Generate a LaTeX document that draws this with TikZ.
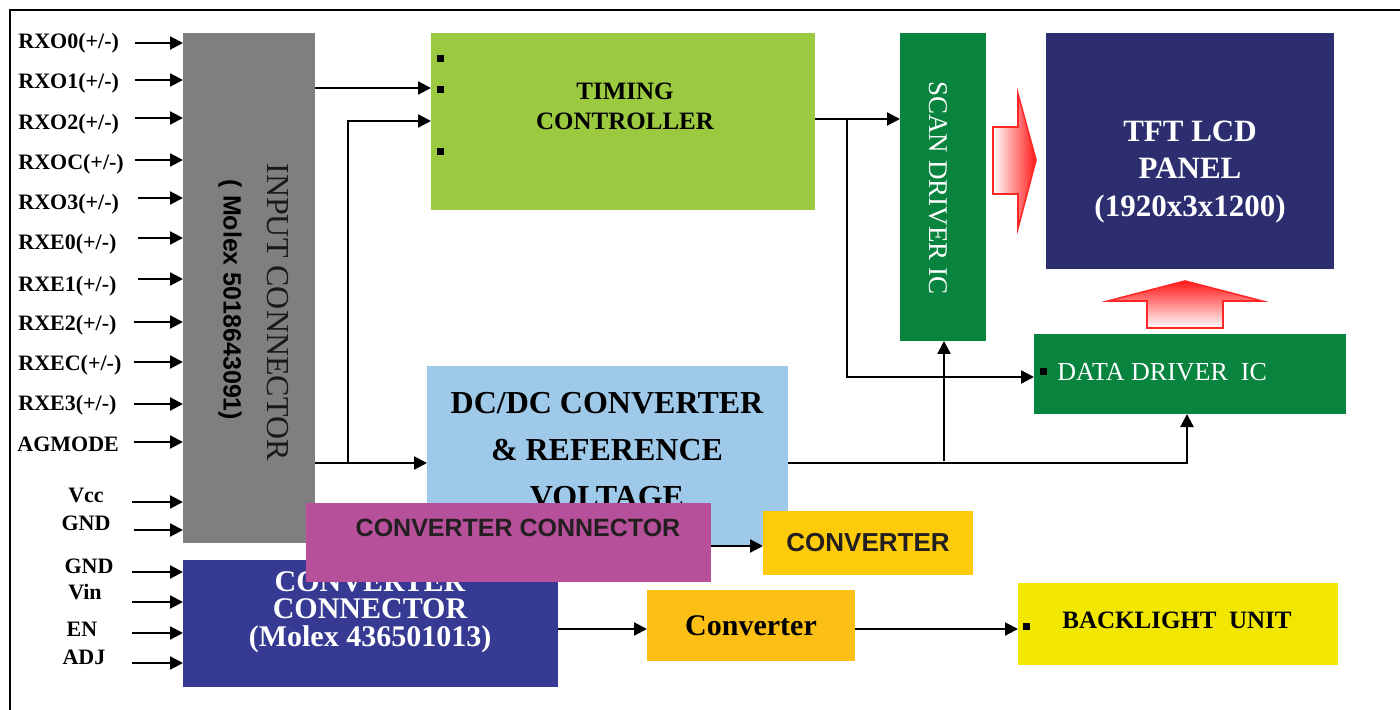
\documentclass[tikz,border=0pt]{standalone}
\usepackage{fontspec}
\setmainfont{Liberation Serif}
\setsansfont{Liberation Sans}
\usetikzlibrary{arrows.meta}
\definecolor{cgray}{HTML}{7F7F7F}
\definecolor{tgreen}{HTML}{9BC93F}
\definecolor{ltblue}{HTML}{9FC9E9}
\definecolor{dgreen}{HTML}{08843F}
\definecolor{navy}{HTML}{2C2E70}
\definecolor{cblue}{HTML}{363A93}
\definecolor{purp}{HTML}{B7509B}
\definecolor{yconvc}{HTML}{FECB0A}
\definecolor{oconvc}{HTML}{FBBF16}
\definecolor{backc}{HTML}{F2E700}
\definecolor{txtdark}{HTML}{231F20}
\begin{document}
\begin{tikzpicture}[x=0.5pt,y=-0.5pt,
  blk/.style 2 args={draw=none, inner sep=0pt, outer sep=0pt, minimum width=#1*0.5pt, minimum height=#2*0.5pt},
  arr/.style={line width=1.1pt, -{Triangle[length=6.5pt,width=6.5pt]}},
  pin/.style={font=\fontsize{11}{12}\selectfont\bfseries, inner sep=0pt},
  pinw/.style={pin, anchor=west},
  dot/.style={fill=black, inner sep=0pt, minimum size=3.5pt},
]
\useasboundingbox (0,0) rectangle (1400,710);
\draw[line width=1.2pt] (10,710) -- (10,10) -- (1400,10);

% input connector
\node[blk={132}{510}, fill=cgray] (inp) at (249,288) {};
\node[rotate=-90, text=black!90, font=\fontsize{16}{18}\selectfont] (inpT) at (278,312) {INPUT CONNECTOR};
\node[rotate=-90, font=\sffamily\bfseries\fontsize{12.5}{14}\selectfont] (inpM) at (230,300) {( Molex 5018643091)};

% timing controller
\node[blk={384}{177}, fill=tgreen] (tim) at (623,121.5) {};
\node[font=\bfseries\fontsize{12.5}{15}\selectfont, align=center] (timT) at (625,106) {TIMING\\CONTROLLER};
\node[dot] (td1) at (440,59) {};
\node[dot] (td2) at (440,90) {};
\node[dot] (td3) at (440,152) {};

% scan driver
\node[blk={86}{308}, fill=dgreen] (scan) at (943,187) {};
\node[rotate=-90, text=white, font=\fontsize{13.5}{15}\selectfont] (scanT) at (938,188) {SCAN DRIVER IC};

% panel
\node[blk={288}{236}, fill=navy] (panel) at (1190,151) {};
\node[text=white, font=\bfseries\fontsize{15.5}{18.75}\selectfont, align=center] (panelT) at (1190,172) {TFT LCD\\PANEL\\(1920x3x1200)};

% data driver
\node[blk={312}{80}, fill=dgreen] (data) at (1190,374) {};
\node[text=white, anchor=west, inner sep=0pt, font=\fontsize{13}{15}\selectfont] (dataT) at (1057,372) {DATA DRIVER\ \ IC};
\node[dot] (dd1) at (1043,372) {};

% dc/dc
\node[blk={361}{179}, fill=ltblue] (dcdc) at (607.5,455.5) {};
\node[font=\bfseries\fontsize{16}{23.5}\selectfont, align=center] (dcdcT) at (607,450) {DC/DC CONVERTER\\\& REFERENCE\\VOLTAGE};

% converter connector
\node[blk={375}{127}, fill=cblue] (cconn) at (370.5,623.5) {};
\node[text=white, font=\bfseries\fontsize{15}{13.75}\selectfont, align=center] (cconnT) at (370,612) {CONVERTER\\CONNECTOR\\(Molex 436501013)};

% purple overlay
\node[blk={405}{79}, fill=purp] (purpB) at (508.5,542.5) {};
\node[text=txtdark, font=\sffamily\bfseries\fontsize{12.5}{14}\selectfont] (purpT) at (518,528) {CONVERTER CONNECTOR};

% yellow converter
\node[blk={210}{64}, fill=yconvc, text=txtdark, font=\sffamily\bfseries\fontsize{13}{15}\selectfont] (yconv) at (868,543) {CONVERTER};

% orange converter
\node[blk={208}{71}, fill=oconvc, font=\bfseries\fontsize{15}{17}\selectfont] (oconv) at (751,625.5) {Converter};

% backlight
\node[blk={320}{82}, fill=backc] (back) at (1178,624) {};
\node[font=\bfseries\fontsize{12.5}{15}\selectfont] (backT) at (1177,620) {BACKLIGHT\ \ UNIT};
\node[dot] (bd1) at (1026,626) {};

% block arrows
\shadedraw[left color=white, right color=red!90, draw=red!85, line width=0.8pt]
  (993,127) -- (1018,127) -- (1018,94) -- (1036,160) -- (1018,228) -- (1018,194) -- (993,194) -- cycle;
\shadedraw[top color=red!90, bottom color=white, draw=red!85, line width=0.8pt]
  (1147,328) -- (1147,301) -- (1108,301) -- (1185,281) -- (1262,301) -- (1223,301) -- (1223,328) -- cycle;

% pin labels
\node[pinw] (l1) at (18,43) {RXO0(+/-)};
\node[pinw] (l2) at (18,83) {RXO1(+/-)};
\node[pinw] (l3) at (18,124) {RXO2(+/-)};
\node[pinw] (l4) at (18,164) {RXOC(+/-)};
\node[pinw] (l5) at (18,204) {RXO3(+/-)};
\node[pinw] (l6) at (18,244) {RXE0(+/-)};
\node[pinw] (l7) at (18,286) {RXE1(+/-)};
\node[pinw] (l8) at (18,325) {RXE2(+/-)};
\node[pinw] (l9) at (18,365) {RXEC(+/-)};
\node[pinw] (l10) at (18,405) {RXE3(+/-)};
\node[pinw] (l11) at (17,444) {AGMODE};
\node[pin] (l12) at (86,495) {Vcc};
\node[pin] (l13) at (86,523) {GND};
\node[pin] (l14) at (89,566) {GND};
\node[pin] (l15) at (85,592) {Vin};
\node[pin] (l16) at (82,629) {EN};
\node[pin] (l17) at (84,657) {ADJ};

% pin arrows
\coordinate (a1) at (135,43);
\coordinate (a2) at (135,80);
\coordinate (a3) at (135,118);
\coordinate (a4) at (135,160);
\coordinate (a5) at (138,198);
\coordinate (a6) at (138,238);
\coordinate (a7) at (138,279);
\coordinate (a8) at (134,322);
\coordinate (a9) at (134,362);
\coordinate (a10) at (134,404);
\coordinate (a11) at (134,442);
\coordinate (a12) at (132,502);
\coordinate (a13) at (134,530);
\coordinate (a14) at (132,572);
\coordinate (a15) at (132,602);
\coordinate (a16) at (132,633);
\coordinate (a17) at (132,663);
\foreach \k in {1,...,13} { \draw[arr] (a\k) -- (a\k -| inp.west); }
\foreach \k in {14,...,17} { \draw[arr] (a\k) -- (a\k -| cconn.west); }

% connectors
\coordinate (y88) at (0,88);
\draw[arr] (inp.east |- y88) -- (tim.west |- y88);
\coordinate (j1) at (348,463);
\coordinate (j1t) at (348,121);
\draw[arr] (inp.east |- j1) -- (dcdc.west |- j1);
\draw[arr] (j1) -- (j1t) -- (j1t -| tim.west);

\coordinate (y119) at (0,119);
\draw[arr] (tim.east |- y119) -- (scan.west |- y119);
\coordinate (j2) at (847,119);
\coordinate (j2b) at (847,377);
\draw[arr] (j2) -- (j2b) -- (j2b -| data.west);

\coordinate (j3) at (1187,463);
\draw[arr] (dcdc.east |- j3) -- (j3) -- (data.south -| j3);
\coordinate (j4) at (944,461);
\draw[arr] (j4) -- (scan.south -| j4);

\coordinate (y546) at (0,546);
\draw[arr] (purpB.east |- y546) -- (yconv.west |- y546);
\coordinate (y629) at (0,629);
\draw[arr] (cconn.east |- y629) -- (oconv.west |- y629);
\draw[arr] (oconv.east |- y629) -- (back.west |- y629);
\end{tikzpicture}
\end{document}
